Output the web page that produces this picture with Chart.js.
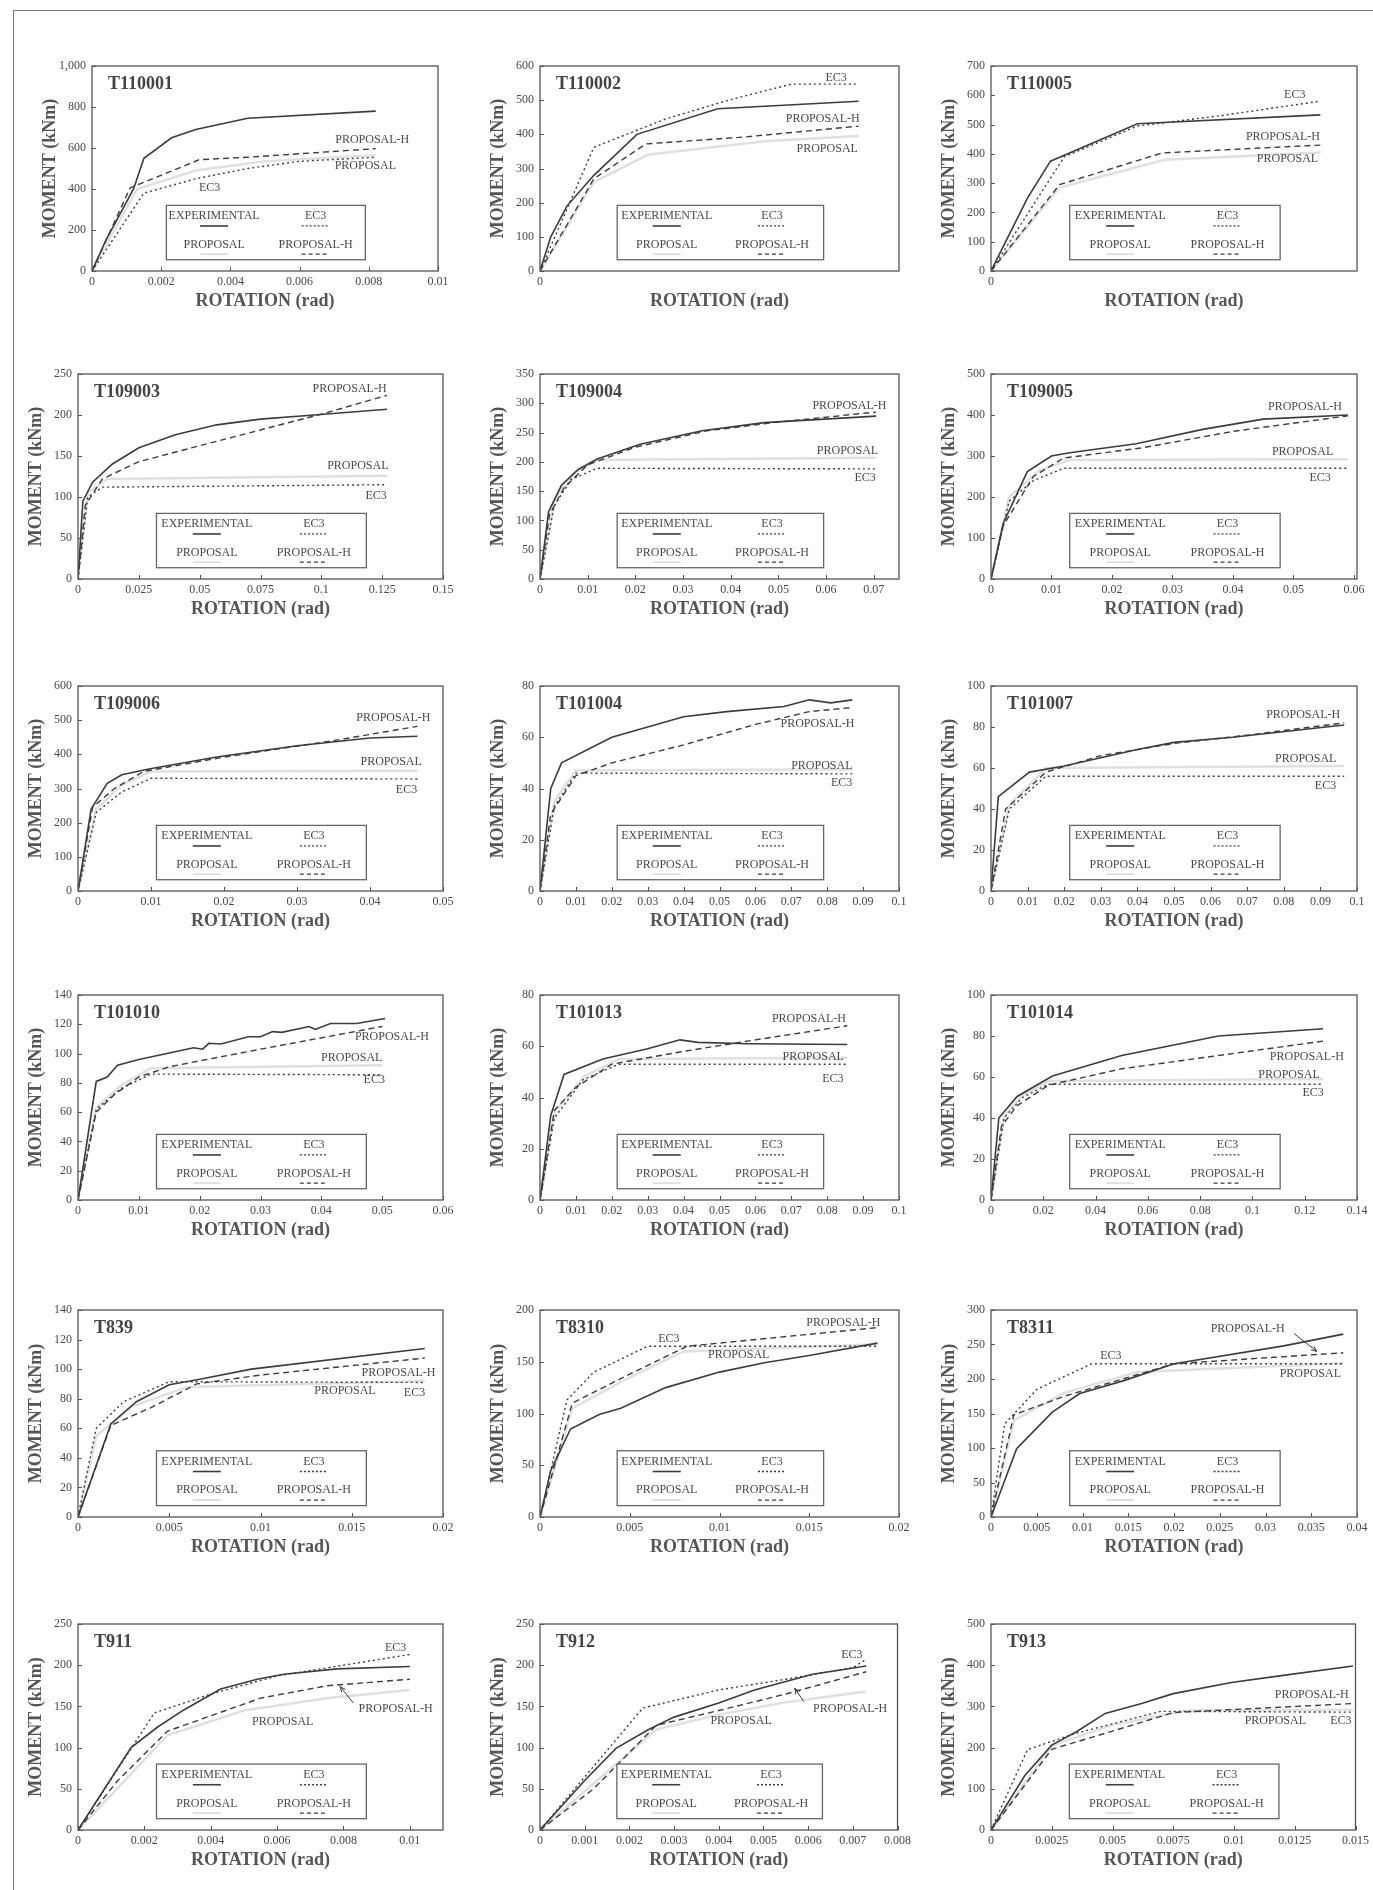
<!DOCTYPE html>
<html>
<head>
<meta charset="utf-8">
<script src="https://cdn.jsdelivr.net/npm/chart.js@4.4.1/dist/chart.umd.min.js"></script>
<style>
  html, body { margin: 0; padding: 0; background: #fff; }
  #page { position: relative; width: 1373px; height: 1890px; overflow: hidden; background: #fff; }
  #frame { position: absolute; left: 13px; top: 10px; width: 1400px; height: 1900px;
           border-left: 1.5px solid #777; border-top: 1.5px solid #777; }
  .panel { position: absolute; }
</style>
</head>
<body>
<div id="page"><div id="frame"></div></div>
<script>
// ----------------------------
// Data: [rotation (rad), moment (kNm)]
// ----------------------------
const PANELS = ['T110001', 'T110002', 'T110005', 'T109003', 'T109004', 'T109005',
                'T109006', 'T101004', 'T101007', 'T101010', 'T101013', 'T101014',
                'T839', 'T8310', 'T8311', 'T911', 'T912', 'T913'];

const EXP_T110001 = [[0,0],[0.0004,150],[0.0012,400],[0.0015,550],[0.0023,650],[0.003,690],[0.0045,745],[0.0082,780]];
const PROP_T110001 = [[0,0],[0.0013,400],[0.003,490],[0.005,535],[0.0082,565]];
const EC3_T110001 = [[0,0],[0.0015,380],[0.003,450],[0.0045,500],[0.006,535],[0.0082,555]];
const PH_T110001 = [[0,0],[0.0011,405],[0.0031,543],[0.0045,555],[0.0082,597]];

const EXP_T110002 = [[0,0],[0.0012,100],[0.003,190],[0.006,280],[0.0108,400],[0.0198,475],[0.0355,497]];
const PROP_T110002 = [[0,0],[0.006,260],[0.012,340],[0.025,380],[0.0355,395]];
const EC3_T110002 = [[0,0],[0.006,362],[0.014,445],[0.021,500],[0.028,547],[0.0355,547]];
const PH_T110002 = [[0,0],[0.006,270],[0.0118,372],[0.0227,392],[0.0355,424]];

const EXP_T110005 = [[0,0],[0.002,125],[0.004,250],[0.0065,375],[0.011,435],[0.016,503],[0.036,533]];
const PROP_T110005 = [[0,0],[0.0075,285],[0.019,380],[0.036,405]];
const EC3_T110005 = [[0,0],[0.008,390],[0.016,495],[0.025,530],[0.036,580]];
const PH_T110005 = [[0,0],[0.0075,295],[0.0187,403],[0.036,430]];

const EXP_T109003 = [[0,0],[0.002,95],[0.006,118],[0.014,140],[0.025,160],[0.04,176],[0.057,188],[0.075,195],[0.097,200],[0.127,207]];
const PROP_T109003 = [[0,0],[0.004,105],[0.012,122],[0.127,126]];
const EC3_T109003 = [[0,0],[0.004,100],[0.01,112],[0.127,115]];
const PH_T109003 = [[0,0],[0.003,90],[0.01,122],[0.025,143],[0.057,168],[0.1,201],[0.127,224]];

const EXP_T109004 = [[0,0],[0.0018,115],[0.0045,160],[0.008,187],[0.012,205],[0.021,230],[0.034,253],[0.047,267],[0.0705,278]];
const PROP_T109004 = [[0,0],[0.003,135],[0.007,180],[0.012,203],[0.0705,207]];
const EC3_T109004 = [[0,0],[0.003,125],[0.0065,170],[0.012,189],[0.0705,188]];
const PH_T109004 = [[0,0],[0.002,110],[0.005,155],[0.01,195],[0.02,225],[0.035,253],[0.05,268],[0.0705,285]];

const EXP_T109005 = [[0,0],[0.002,135],[0.006,262],[0.01,300],[0.013,308],[0.024,330],[0.035,365],[0.045,390],[0.059,400]];
const PROP_T109005 = [[0,0],[0.003,200],[0.008,265],[0.013,290],[0.059,292]];
const EC3_T109005 = [[0,0],[0.003,190],[0.007,240],[0.012,270],[0.059,270]];
const PH_T109005 = [[0,0],[0.002,130],[0.007,250],[0.012,295],[0.025,320],[0.04,360],[0.059,398]];

const EXP_T109006 = [[0,0],[0.0018,240],[0.004,315],[0.006,340],[0.0097,357],[0.019,392],[0.03,425],[0.04,448],[0.0465,453]];
const PROP_T109006 = [[0,0],[0.0025,240],[0.006,310],[0.01,350],[0.0465,352]];
const EC3_T109006 = [[0,0],[0.0025,230],[0.006,290],[0.01,330],[0.0465,328]];
const PH_T109006 = [[0,0],[0.002,245],[0.005,300],[0.009,350],[0.02,392],[0.035,440],[0.0465,482]];

const EXP_T101004 = [[0,0],[0.003,40],[0.006,50],[0.02,60],[0.04,68],[0.052,70],[0.068,72],[0.075,74.6],[0.081,73.4],[0.087,74.6]];
const PROP_T101004 = [[0,0],[0.004,35],[0.01,47],[0.087,47.5]];
const EC3_T101004 = [[0,0],[0.004,33],[0.01,46],[0.087,45.7]];
const PH_T101004 = [[0,0],[0.003,30],[0.01,45],[0.02,50],[0.04,57],[0.06,65],[0.075,70],[0.087,71.6]];

const EXP_T101007 = [[0,0],[0.002,46],[0.0105,58],[0.02,61],[0.03,65],[0.04,69],[0.05,72.5],[0.066,75],[0.0965,81]];
const PROP_T101007 = [[0,0],[0.005,42],[0.015,60],[0.0965,61]];
const EC3_T101007 = [[0,0],[0.005,40],[0.015,56],[0.0965,56]];
const PH_T101007 = [[0,0],[0.004,40],[0.015,58],[0.03,66],[0.05,72],[0.07,76],[0.0965,82]];

const EXP_T101010 = [[0,0],[0.003,81],[0.0048,84],[0.0065,92],[0.01,96],[0.019,104],[0.0205,103],[0.0215,107],[0.0235,106.5],[0.028,111.5],[0.03,111.5],[0.032,115],[0.0335,114.5],[0.038,118.5],[0.039,116.5],[0.0415,120.5],[0.0458,120.5],[0.0505,124]];
const PROP_T101010 = [[0,0],[0.003,63],[0.007,78],[0.012,90],[0.05,92]];
const EC3_T101010 = [[0,0],[0.003,62],[0.007,76],[0.012,86],[0.05,85.5]];
const PH_T101010 = [[0,0],[0.003,60],[0.006,72],[0.01,84],[0.015,91],[0.03,103],[0.05,118.5]];

const EXP_T101013 = [[0,0],[0.003,33],[0.0067,49],[0.0175,55],[0.03,59],[0.039,62.5],[0.044,61.5],[0.058,61],[0.0856,60.7]];
const PROP_T101013 = [[0,0],[0.004,34],[0.012,48],[0.022,55],[0.0856,55.5]];
const EC3_T101013 = [[0,0],[0.004,32],[0.012,47],[0.022,53],[0.0856,53]];
const PH_T101013 = [[0,0],[0.004,35],[0.01,44],[0.02,53],[0.04,58],[0.06,62.5],[0.0856,68]];

const EXP_T101014 = [[0,0],[0.003,40],[0.01,50.5],[0.0235,60.5],[0.05,70.5],[0.087,80],[0.127,83.5]];
const PROP_T101014 = [[0,0],[0.005,41],[0.012,51],[0.022,58],[0.127,59]];
const EC3_T101014 = [[0,0],[0.005,40],[0.012,50],[0.022,56.5],[0.127,56.5]];
const PH_T101014 = [[0,0],[0.004,36],[0.01,46],[0.022,56],[0.05,64],[0.09,71],[0.127,77.5]];

const EXP_T839 = [[0,0],[0.0018,63],[0.0032,78],[0.005,89.5],[0.0066,93],[0.0095,100],[0.019,114]];
const PROP_T839 = [[0,0],[0.001,55],[0.003,75],[0.006,88],[0.019,92]];
const EC3_T839 = [[0,0],[0.001,60],[0.0025,78],[0.005,91.5],[0.019,91]];
const PH_T839 = [[0,0],[0.0018,62],[0.004,74],[0.0065,90],[0.01,96],[0.019,107.5]];

const EXP_T8310 = [[0,0],[0.0006,45],[0.0017,85],[0.0025,92],[0.0033,99],[0.0045,105],[0.007,125],[0.01,140],[0.0125,149],[0.015,156],[0.0188,168]];
const PROP_T8310 = [[0,0],[0.0018,105],[0.005,135],[0.008,160],[0.0188,167]];
const EC3_T8310 = [[0,0],[0.0015,113],[0.003,140],[0.006,165],[0.0188,165]];
const PH_T8310 = [[0,0],[0.0018,110],[0.005,138],[0.0082,165],[0.0188,183]];

const EXP_T8311 = [[0,0],[0.0028,99],[0.0067,152],[0.0097,179],[0.0146,198],[0.02,222],[0.032,248],[0.0385,265]];
const PROP_T8311 = [[0,0],[0.0025,140],[0.008,180],[0.016,210],[0.0385,223]];
const EC3_T8311 = [[0,0],[0.0015,135],[0.005,185],[0.011,222],[0.0385,222]];
const PH_T8311 = [[0,0],[0.0025,148],[0.008,175],[0.02,222],[0.0385,238]];

const EXP_T911 = [[0,0],[0.0008,50],[0.0016,100],[0.0024,125],[0.0032,146],[0.0043,171],[0.0054,183],[0.0062,189],[0.0078,195.5],[0.01,198.5]];
const PROP_T911 = [[0,0],[0.0027,115],[0.005,145],[0.0075,160],[0.01,170]];
const EC3_T911 = [[0,0],[0.0023,142],[0.004,165],[0.006,187],[0.008,200],[0.01,213]];
const PH_T911 = [[0,0],[0.0012,60],[0.0027,120],[0.0055,160],[0.0075,175],[0.01,183]];

const EXP_T912 = [[0,0],[0.001,60],[0.0017,99],[0.0024,121],[0.003,137],[0.004,154],[0.0048,170],[0.0061,189],[0.0073,199]];
const PROP_T912 = [[0,0],[0.0026,122],[0.004,140],[0.0055,155],[0.0073,168]];
const EC3_T912 = [[0,0],[0.0023,148],[0.004,170],[0.0055,183],[0.007,197],[0.0073,207]];
const PH_T912 = [[0,0],[0.0012,50],[0.0026,127],[0.004,145],[0.0055,165],[0.0073,192]];

const EXP_T913 = [[0,0],[0.0014,133],[0.0025,206],[0.0035,238],[0.0047,283],[0.0062,307],[0.0075,331],[0.0099,358],[0.0121,376],[0.0149,398]];
const PROP_T913 = [[0,0],[0.0025,205],[0.005,255],[0.008,290],[0.0149,292]];
const EC3_T913 = [[0,0],[0.0015,195],[0.0035,235],[0.007,288],[0.0149,286]];
const PH_T913 = [[0,0],[0.0025,196],[0.005,240],[0.0075,285],[0.0149,307]];

// Axis ranges and tick labels, in panel order
const X_MAX = [0.01, 0.04, 0.04, 0.15, 0.0753, 0.0605, 0.05, 0.1, 0.1, 0.06, 0.1, 0.14, 0.02, 0.02, 0.04, 0.011, 0.008, 0.015];
const X_TICKS = [
  [0, 0.002, 0.004, 0.006, 0.008, 0.01],
  [0],
  [0],
  [0, 0.025, 0.05, 0.075, 0.1, 0.125, 0.15],
  [0, 0.01, 0.02, 0.03, 0.04, 0.05, 0.06, 0.07],
  [0, 0.01, 0.02, 0.03, 0.04, 0.05, 0.06],
  [0, 0.01, 0.02, 0.03, 0.04, 0.05],
  [0, 0.01, 0.02, 0.03, 0.04, 0.05, 0.06, 0.07, 0.08, 0.09, 0.1],
  [0, 0.01, 0.02, 0.03, 0.04, 0.05, 0.06, 0.07, 0.08, 0.09, 0.1],
  [0, 0.01, 0.02, 0.03, 0.04, 0.05, 0.06],
  [0, 0.01, 0.02, 0.03, 0.04, 0.05, 0.06, 0.07, 0.08, 0.09, 0.1],
  [0, 0.02, 0.04, 0.06, 0.08, 0.1, 0.12, 0.14],
  [0, 0.005, 0.01, 0.015, 0.02],
  [0, 0.005, 0.01, 0.015, 0.02],
  [0, 0.005, 0.01, 0.015, 0.02, 0.025, 0.03, 0.035, 0.04],
  [0, 0.002, 0.004, 0.006, 0.008, 0.01],
  [0, 0.001, 0.002, 0.003, 0.004, 0.005, 0.006, 0.007, 0.008],
  [0, 0.0025, 0.005, 0.0075, 0.01, 0.0125, 0.015]
];
const Y_TICKS = [
  [0, 200, 400, 600, 800, 1000],
  [0, 100, 200, 300, 400, 500, 600],
  [0, 100, 200, 300, 400, 500, 600, 700],
  [0, 50, 100, 150, 200, 250],
  [0, 50, 100, 150, 200, 250, 300, 350],
  [0, 100, 200, 300, 400, 500],
  [0, 100, 200, 300, 400, 500, 600],
  [0, 20, 40, 60, 80],
  [0, 20, 40, 60, 80, 100],
  [0, 20, 40, 60, 80, 100, 120, 140],
  [0, 20, 40, 60, 80],
  [0, 20, 40, 60, 80, 100],
  [0, 20, 40, 60, 80, 100, 120, 140],
  [0, 50, 100, 150, 200],
  [0, 50, 100, 150, 200, 250, 300],
  [0, 50, 100, 150, 200, 250],
  [0, 50, 100, 150, 200, 250],
  [0, 100, 200, 300, 400, 500]
];

// Curve name tags, placed at [x, y] in data units (optional arrow end)
const TAGS = [
  [['PROPOSAL-H', 0.0081, 641], ['PROPOSAL', 0.0079, 511], ['EC3', 0.0034, 405]],
  [['EC3', 0.033, 564], ['PROPOSAL-H', 0.0315, 444], ['PROPOSAL', 0.032, 358]],
  [['EC3', 0.0332, 601], ['PROPOSAL-H', 0.0319, 457], ['PROPOSAL', 0.0324, 384]],
  [['PROPOSAL-H', 0.1116, 232], ['PROPOSAL', 0.115, 138], ['EC3', 0.1225, 102]],
  [['PROPOSAL-H', 0.0649, 296], ['PROPOSAL', 0.0645, 219], ['EC3', 0.0682, 173]],
  [['PROPOSAL-H', 0.0519, 420], ['PROPOSAL', 0.0515, 311], ['EC3', 0.0544, 247]],
  [['PROPOSAL-H', 0.0432, 506], ['PROPOSAL', 0.0429, 377], ['EC3', 0.045, 297]],
  [['PROPOSAL-H', 0.0773, 65.3], ['PROPOSAL', 0.0785, 49], ['EC3', 0.084, 42.1]],
  [['PROPOSAL-H', 0.0853, 85.7], ['PROPOSAL', 0.086, 64.6], ['EC3', 0.0914, 51.5]],
  [['PROPOSAL-H', 0.0516, 111.6], ['PROPOSAL', 0.045, 96.8], ['EC3', 0.0487, 82]],
  [['PROPOSAL-H', 0.0749, 70.6], ['PROPOSAL', 0.0761, 55.7], ['EC3', 0.0816, 47.1]],
  [['PROPOSAL-H', 0.1208, 69.8], ['PROPOSAL', 0.114, 60.9], ['EC3', 0.1232, 52.3]],
  [['PROPOSAL-H', 0.01756, 97.5], ['PROPOSAL', 0.01463, 85], ['EC3', 0.01844, 83.9]],
  [['EC3', 0.00718, 172.6], ['PROPOSAL-H', 0.0169, 187.7], ['PROPOSAL', 0.01107, 156.5]],
  [['EC3', 0.0131, 233.7], ['PROPOSAL-H', 0.02805, 273.3, 0.0331, 266, 0.0356, 240], ['PROPOSAL', 0.0349, 208]],
  [['EC3', 0.00957, 221.5], ['PROPOSAL-H', 0.00957, 146.6, 0.0083, 154, 0.0079, 174], ['PROPOSAL', 0.00617, 131.6]],
  [['EC3', 0.00698, 212.6], ['PROPOSAL-H', 0.00694, 147.6, 0.0059, 156, 0.0057, 172], ['PROPOSAL', 0.0045, 132]],
  [['PROPOSAL-H', 0.0132, 327], ['PROPOSAL', 0.0117, 264], ['EC3', 0.0144, 264]]
];

const SERIES = {
  T110001: [EXP_T110001, PROP_T110001, EC3_T110001, PH_T110001],
  T110002: [EXP_T110002, PROP_T110002, EC3_T110002, PH_T110002],
  T110005: [EXP_T110005, PROP_T110005, EC3_T110005, PH_T110005],
  T109003: [EXP_T109003, PROP_T109003, EC3_T109003, PH_T109003],
  T109004: [EXP_T109004, PROP_T109004, EC3_T109004, PH_T109004],
  T109005: [EXP_T109005, PROP_T109005, EC3_T109005, PH_T109005],
  T109006: [EXP_T109006, PROP_T109006, EC3_T109006, PH_T109006],
  T101004: [EXP_T101004, PROP_T101004, EC3_T101004, PH_T101004],
  T101007: [EXP_T101007, PROP_T101007, EC3_T101007, PH_T101007],
  T101010: [EXP_T101010, PROP_T101010, EC3_T101010, PH_T101010],
  T101013: [EXP_T101013, PROP_T101013, EC3_T101013, PH_T101013],
  T101014: [EXP_T101014, PROP_T101014, EC3_T101014, PH_T101014],
  T839: [EXP_T839, PROP_T839, EC3_T839, PH_T839],
  T8310: [EXP_T8310, PROP_T8310, EC3_T8310, PH_T8310],
  T8311: [EXP_T8311, PROP_T8311, EC3_T8311, PH_T8311],
  T911: [EXP_T911, PROP_T911, EC3_T911, PH_T911],
  T912: [EXP_T912, PROP_T912, EC3_T912, PH_T912],
  T913: [EXP_T913, PROP_T913, EC3_T913, PH_T913]
};

// ----------------------------
// Layout (page pixels)
// ----------------------------
const COL_LEFT = [78, 540, 991];
const COL_RIGHT = [443, 899, 1357];
const ROW_TOP = [66, 374, 686, 995, 1310, 1624];
const ROW_BOTTOM = [271, 579, 891, 1200, 1517, 1830];
const AXIS_W = 58, AXIS_H = 44, PAD_TOP = 14, PAD_RIGHT = 16;

const SERIF = '"Liberation Serif", "DejaVu Serif", serif';
const INK = '#3c3c3c';
const TEXT = '#4a4a4a';
const FAINT = '#e0e0e0';

const fmtX = (v) => (v === 0 ? '0' : String(Number(v.toFixed(6))));
const fmtY = (v) => (v >= 1000 ? v.toLocaleString('en-US') : String(v));

// frame, inner ticks, panel name, curve tags and legend box
const panelDecor = {
  id: 'panelDecor',
  afterDatasetsDraw(chart, args, opts) {
    const { ctx, chartArea: a, scales: { x, y } } = chart;
    const W = a.right - a.left, H = a.bottom - a.top;
    ctx.save();

    ctx.strokeStyle = '#555';
    ctx.lineWidth = 1.3;
    ctx.strokeRect(a.left, a.top, W, H);

    ctx.beginPath();
    x.ticks.forEach((t) => {
      const px = Math.round(x.getPixelForValue(t.value)) + 0.5;
      ctx.moveTo(px, a.bottom); ctx.lineTo(px, a.bottom - 4);
    });
    y.ticks.forEach((t) => {
      const py = Math.round(y.getPixelForValue(t.value)) + 0.5;
      ctx.moveTo(a.left, py); ctx.lineTo(a.left + 4, py);
    });
    ctx.lineWidth = 1;
    ctx.stroke();

    // panel name
    ctx.fillStyle = '#444';
    ctx.font = `bold 18px ${SERIF}`;
    ctx.textAlign = 'left';
    ctx.textBaseline = 'middle';
    ctx.fillText(opts.name, a.left + 16, a.top + 18);

    // curve tags
    ctx.font = `12px ${SERIF}`;
    ctx.textAlign = 'center';
    ctx.fillStyle = TEXT;
    opts.tags.forEach((t) => {
      ctx.fillText(t[0], x.getPixelForValue(t[1]), y.getPixelForValue(t[2]));
      if (t.length > 3) {
        const x1 = x.getPixelForValue(t[3]), y1 = y.getPixelForValue(t[4]);
        const x2 = x.getPixelForValue(t[5]), y2 = y.getPixelForValue(t[6]);
        const ang = Math.atan2(y2 - y1, x2 - x1);
        ctx.strokeStyle = INK;
        ctx.lineWidth = 1;
        ctx.beginPath();
        ctx.moveTo(x1, y1); ctx.lineTo(x2, y2);
        ctx.moveTo(x2, y2); ctx.lineTo(x2 - 6 * Math.cos(ang - 0.4), y2 - 6 * Math.sin(ang - 0.4));
        ctx.moveTo(x2, y2); ctx.lineTo(x2 - 6 * Math.cos(ang + 0.4), y2 - 6 * Math.sin(ang + 0.4));
        ctx.stroke();
      }
    });

    // legend box
    const bl = a.left + 0.215 * W, br = a.left + 0.79 * W;
    const bt = a.top + 0.68 * H, bb = a.top + 0.945 * H;
    const bw = br - bl, bh = bb - bt;
    ctx.fillStyle = '#fff';
    ctx.fillRect(bl, bt, bw, bh);
    ctx.strokeStyle = '#666';
    ctx.lineWidth = 1.3;
    ctx.strokeRect(bl, bt, bw, bh);

    const entries = [
      ['EXPERIMENTAL', 0.24, 0.2, INK, [], 1.6],
      ['EC3', 0.75, 0.2, INK, [2, 2], 1.3],
      ['PROPOSAL', 0.24, 0.72, FAINT, [], 2],
      ['PROPOSAL-H', 0.75, 0.72, INK, [4, 3], 1.3]
    ];
    entries.forEach(([label, fx, fy, color, dash, lw]) => {
      const cx = bl + fx * bw, cy = bt + fy * bh;
      ctx.fillStyle = TEXT;
      ctx.fillText(label, cx, cy);
      ctx.strokeStyle = color;
      ctx.lineWidth = lw;
      ctx.setLineDash(dash);
      ctx.beginPath();
      ctx.moveTo(cx - 14, cy + 0.16 * bh + 1);
      ctx.lineTo(cx + 14, cy + 0.16 * bh + 1);
      ctx.stroke();
      ctx.setLineDash([]);
    });
    ctx.restore();
  }
};

const makePanel = (name, idx) => {
  const [exp, prop, ec3, ph] = SERIES[name];
  const col = idx % 3, row = Math.floor(idx / 3);
  let left = COL_LEFT[col], right = COL_RIGHT[col];
  if (idx === 0) { left = 92; right = 438; }
  const top = ROW_TOP[row], bottom = ROW_BOTTOM[row];
  const w = right - left + AXIS_W + PAD_RIGHT;
  const h = bottom - top + PAD_TOP + AXIS_H;

  const wrap = document.createElement('div');
  wrap.className = 'panel';
  wrap.style.left = (left - AXIS_W) + 'px';
  wrap.style.top = (top - PAD_TOP) + 'px';
  wrap.style.width = w + 'px';
  wrap.style.height = h + 'px';
  const canvas = document.createElement('canvas');
  canvas.width = w;
  canvas.height = h;
  wrap.appendChild(canvas);
  document.getElementById('page').appendChild(wrap);

  const yTicks = Y_TICKS[idx];
  const tickFont = { family: SERIF, size: 12 };
  const titleFont = { family: SERIF, size: 18, weight: 'bold' };

  new Chart(canvas, {
    type: 'line',
    data: {
      datasets: [
        { label: 'EXPERIMENTAL', data: exp, borderColor: INK, borderWidth: 1.6 },
        { label: 'EC3', data: ec3, borderColor: INK, borderWidth: 1.4, borderDash: [2, 3] },
        { label: 'PROPOSAL-H', data: ph, borderColor: INK, borderWidth: 1.4, borderDash: [6, 4] },
        { label: 'PROPOSAL', data: prop, borderColor: FAINT, borderWidth: 2.5 }
      ]
    },
    options: {
      responsive: false,
      animation: false,
      elements: { point: { radius: 0 }, line: { tension: 0, fill: false } },
      layout: { padding: { top: PAD_TOP, right: PAD_RIGHT, left: 0, bottom: 0 } },
      scales: {
        x: {
          type: 'linear',
          min: 0,
          max: X_MAX[idx],
          afterBuildTicks: (s) => { s.ticks = X_TICKS[idx].map((v) => ({ value: v })); },
          afterFit: (s) => { s.height = AXIS_H; },
          grid: { display: false, drawTicks: false },
          border: { display: false },
          ticks: { padding: 4, color: TEXT, font: tickFont, maxRotation: 0, autoSkip: false, callback: fmtX },
          title: { display: true, text: 'ROTATION (rad)', color: '#555', font: titleFont, padding: { top: 0, bottom: 3 } }
        },
        y: {
          type: 'linear',
          min: 0,
          max: yTicks[yTicks.length - 1],
          afterBuildTicks: (s) => { s.ticks = yTicks.map((v) => ({ value: v })); },
          afterFit: (s) => { s.width = AXIS_W; },
          grid: { display: false, drawTicks: false },
          border: { display: false },
          ticks: { padding: 6, color: TEXT, font: tickFont, autoSkip: false, callback: fmtY },
          title: { display: true, text: 'MOMENT (kNm)', color: '#555', font: titleFont, padding: { top: 6, bottom: 0 } }
        }
      },
      plugins: {
        legend: { display: false },
        tooltip: { enabled: false },
        panelDecor: { name, tags: TAGS[idx] }
      }
    },
    plugins: [panelDecor]
  });
};

PANELS.forEach(makePanel);
</script>
</body>
</html>
